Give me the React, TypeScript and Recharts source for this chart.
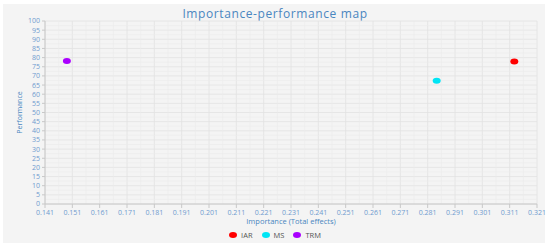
import { ScatterChart, Scatter, XAxis, YAxis, CartesianGrid, ReferenceLine } from 'recharts';

const xTicks = [0.141, 0.151, 0.161, 0.171, 0.181, 0.191, 0.201, 0.211, 0.221, 0.231, 0.241, 0.251, 0.261, 0.271, 0.281, 0.291, 0.301, 0.311, 0.321];
const xMinor = [0.146, 0.156, 0.166, 0.176, 0.186, 0.196, 0.206, 0.216, 0.226, 0.236, 0.246, 0.256, 0.266, 0.276, 0.286, 0.296, 0.306, 0.316];
const yTicks = [0, 5, 10, 15, 20, 25, 30, 35, 40, 45, 50, 55, 60, 65, 70, 75, 80, 85, 90, 95, 100];
const yMinor = [2.5, 7.5, 12.5, 17.5, 22.5, 27.5, 32.5, 37.5, 42.5, 47.5, 52.5, 57.5, 62.5, 67.5, 72.5, 77.5, 82.5, 87.5, 92.5, 97.5];

const seriesNames = ['IAR', 'MS', 'TRM'];
const seriesColors = ['#ff0000', '#00e5f5', '#aa00ff'];
const importance = [0.3127, 0.2843, 0.149];
const performance = [77.9, 67.4, 78.1];

const FONT = '"Open Sans", "Noto Sans", sans-serif';
const TICK = { fontSize: 7, fill: '#6f9bcf', fontFamily: FONT };

const Dot = (props: any) => {
  const { cx, cy, fill } = props;
  return <ellipse cx={cx} cy={cy} rx={4} ry={3} fill={fill} />;
};

export default function App() {
  return (
    <div style={{ position: 'absolute', left: 0, top: 0, width: 550, height: 247, background: '#fff', fontFamily: FONT }}>
      <div style={{ position: 'absolute', left: 3, top: 4, width: 542, height: 239, background: '#f4f4f4' }} />
      <div style={{ position: 'absolute', left: 0, top: 5, width: 550, textAlign: 'center', fontSize: 12, color: '#4a86c0', letterSpacing: 0.6 }}>
        Importance-performance map
      </div>
      <div style={{ position: 'absolute', left: 0, top: 0 }}>
        <ScatterChart width={550} height={247} margin={{ top: 21, right: 13, left: 0, bottom: 0 }}>
          <CartesianGrid stroke="#e2e2e2" strokeWidth={0.8} />
          {xMinor.map((v) => (
            <ReferenceLine key={'x' + v} x={v} stroke="#ebebeb" strokeWidth={0.6} />
          ))}
          {yMinor.map((v) => (
            <ReferenceLine key={'y' + v} y={v} stroke="#ebebeb" strokeWidth={0.6} />
          ))}
          <XAxis
            type="number"
            dataKey="x"
            domain={[0.141, 0.321]}
            ticks={xTicks}
            interval={0}
            tickFormatter={(v: number) => v.toFixed(3)}
            height={43}
            tick={TICK}
            tickSize={4}
            tickMargin={2}
            axisLine={{ stroke: '#c8c8c8' }}
            tickLine={{ stroke: '#c8c8c8' }}
            label={{ value: 'Importance (Total effects)', position: 'insideTop', offset: 15, style: { fontSize: 7.5, fill: '#4a86c0', fontFamily: FONT } }}
          />
          <YAxis
            type="number"
            dataKey="y"
            domain={[0, 100]}
            ticks={yTicks}
            interval={0}
            width={45}
            tick={TICK}
            tickSize={3}
            tickMargin={2}
            axisLine={{ stroke: '#c8c8c8' }}
            tickLine={{ stroke: '#c8c8c8' }}
            label={{ value: 'Performance', angle: -90, position: 'insideLeft', offset: 20, style: { fontSize: 7, fill: '#4a86c0', fontFamily: FONT, textAnchor: 'middle' } }}
          />
          {seriesNames.map((name, i) => (
            <Scatter
              key={name}
              name={name}
              data={[{ x: importance[i], y: performance[i] }]}
              fill={seriesColors[i]}
              shape={Dot}
              isAnimationActive={false}
            />
          ))}
        </ScatterChart>
      </div>
      <div style={{ position: 'absolute', left: 0, top: 230, width: 550, display: 'flex', justifyContent: 'center', gap: 9, fontSize: 7.5, color: '#555' }}>
        {seriesNames.map((name, i) => (
          <div key={name} style={{ display: 'flex', alignItems: 'center', gap: 4 }}>
            <div style={{ width: 8, height: 6, borderRadius: '50%', background: seriesColors[i] }} />
            <span>{name}</span>
          </div>
        ))}
      </div>
    </div>
  );
}
